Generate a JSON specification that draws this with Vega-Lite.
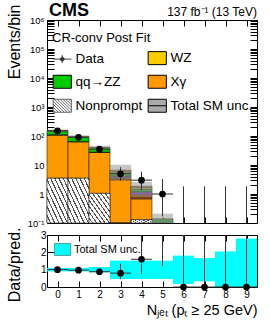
{
  "$schema": "https://vega.github.io/schema/vega-lite/v6.json",
  "padding": {"left": 5, "top": 1, "right": 5, "bottom": 2},
  "config": {
    "font": "Liberation Sans",
    "view": {"stroke": "black", "strokeWidth": 1},
    "axis": {"labelFont": "Liberation Sans", "titleFont": "Liberation Sans", "labelColor": "black", "titleColor": "black", "domainColor": "black", "tickColor": "black", "grid": false, "titleFontWeight": "normal", "labelOverlap": false, "labelSeparation": 0, "labelBound": false},
    "legend": {"labelFont": "Liberation Sans", "labelColor": "black"}
  },
  "datasets": {
    "stack": [
      {"bin": 0, "lo": -0.5, "hi": 0.5, "proc": "Nonprompt", "n": 3.5},
      {"bin": 0, "lo": -0.5, "hi": 0.5, "proc": "Xγ", "n": 106},
      {"bin": 0, "lo": -0.5, "hi": 0.5, "proc": "ttV", "n": 0.6},
      {"bin": 0, "lo": -0.5, "hi": 0.5, "proc": "VVV", "n": 0.5},
      {"bin": 0, "lo": -0.5, "hi": 0.5, "proc": "ggZZ", "n": 0.5},
      {"bin": 0, "lo": -0.5, "hi": 0.5, "proc": "qq→ZZ", "n": 38},
      {"bin": 0, "lo": -0.5, "hi": 0.5, "proc": "tZq", "n": 1.5},
      {"bin": 0, "lo": -0.5, "hi": 0.5, "proc": "WZ", "n": 3},
      {"bin": 1, "lo": 0.5, "hi": 1.5, "proc": "Nonprompt", "n": 3.5},
      {"bin": 1, "lo": 0.5, "hi": 1.5, "proc": "Xγ", "n": 60},
      {"bin": 1, "lo": 0.5, "hi": 1.5, "proc": "ttV", "n": 0.4},
      {"bin": 1, "lo": 0.5, "hi": 1.5, "proc": "VVV", "n": 0.4},
      {"bin": 1, "lo": 0.5, "hi": 1.5, "proc": "ggZZ", "n": 0.4},
      {"bin": 1, "lo": 0.5, "hi": 1.5, "proc": "qq→ZZ", "n": 28},
      {"bin": 1, "lo": 0.5, "hi": 1.5, "proc": "tZq", "n": 1},
      {"bin": 1, "lo": 0.5, "hi": 1.5, "proc": "WZ", "n": 2},
      {"bin": 2, "lo": 1.5, "hi": 2.5, "proc": "Nonprompt", "n": 1.05},
      {"bin": 2, "lo": 1.5, "hi": 2.5, "proc": "Xγ", "n": 26},
      {"bin": 2, "lo": 1.5, "hi": 2.5, "proc": "ttV", "n": 0.3},
      {"bin": 2, "lo": 1.5, "hi": 2.5, "proc": "VVV", "n": 0.3},
      {"bin": 2, "lo": 1.5, "hi": 2.5, "proc": "ggZZ", "n": 0.3},
      {"bin": 2, "lo": 1.5, "hi": 2.5, "proc": "qq→ZZ", "n": 10.5},
      {"bin": 2, "lo": 1.5, "hi": 2.5, "proc": "tZq", "n": 0.8},
      {"bin": 2, "lo": 1.5, "hi": 2.5, "proc": "WZ", "n": 1.2},
      {"bin": 3, "lo": 2.5, "hi": 3.5, "proc": "Nonprompt", "n": 0.05},
      {"bin": 3, "lo": 2.5, "hi": 3.5, "proc": "Xγ", "n": 3.05},
      {"bin": 3, "lo": 2.5, "hi": 3.5, "proc": "ttV", "n": 0.55},
      {"bin": 3, "lo": 2.5, "hi": 3.5, "proc": "VVV", "n": 0.42},
      {"bin": 3, "lo": 2.5, "hi": 3.5, "proc": "ggZZ", "n": 0.2},
      {"bin": 3, "lo": 2.5, "hi": 3.5, "proc": "qq→ZZ", "n": 1.0},
      {"bin": 3, "lo": 2.5, "hi": 3.5, "proc": "tZq", "n": 0.9},
      {"bin": 3, "lo": 2.5, "hi": 3.5, "proc": "WZ", "n": 0.5},
      {"bin": 4, "lo": 3.5, "hi": 4.5, "proc": "Nonprompt", "n": 0.13},
      {"bin": 4, "lo": 3.5, "hi": 4.5, "proc": "Xγ", "n": 0.55},
      {"bin": 4, "lo": 3.5, "hi": 4.5, "proc": "ttV", "n": 0.3},
      {"bin": 4, "lo": 3.5, "hi": 4.5, "proc": "VVV", "n": 0.2},
      {"bin": 4, "lo": 3.5, "hi": 4.5, "proc": "ggZZ", "n": 0.05},
      {"bin": 4, "lo": 3.5, "hi": 4.5, "proc": "qq→ZZ", "n": 0.2},
      {"bin": 4, "lo": 3.5, "hi": 4.5, "proc": "tZq", "n": 0.3},
      {"bin": 4, "lo": 3.5, "hi": 4.5, "proc": "WZ", "n": 0.12},
      {"bin": 5, "lo": 4.5, "hi": 5.5, "proc": "Xγ", "n": 0.02},
      {"bin": 5, "lo": 4.5, "hi": 5.5, "proc": "ggZZ", "n": 0.12}
    ],
    "unc": [
      {"lo": -0.5, "hi": 0.5, "ulo": 140, "uhi": 168},
      {"lo": 0.5, "hi": 1.5, "ulo": 87, "uhi": 106},
      {"lo": 1.5, "hi": 2.5, "ulo": 35, "uhi": 46},
      {"lo": 2.5, "hi": 3.5, "ulo": 3.1, "uhi": 10.2},
      {"lo": 3.5, "hi": 4.5, "ulo": 0.8, "uhi": 2.6},
      {"lo": 4.5, "hi": 5.5, "ulo": 0.065, "uhi": 0.21}
    ],
    "obs": [
      {"bin": 0, "lo": -0.5, "hi": 0.5, "n": 150, "elo": 138, "ehi": 162},
      {"bin": 1, "lo": 0.5, "hi": 1.5, "n": 90, "elo": 80.5, "ehi": 99.5},
      {"bin": 2, "lo": 1.5, "hi": 2.5, "n": 35, "elo": 29.1, "ehi": 40.9},
      {"bin": 3, "lo": 2.5, "hi": 3.5, "n": 5, "elo": 2.84, "ehi": 8.38},
      {"bin": 4, "lo": 3.5, "hi": 4.5, "n": 3, "elo": 1.37, "ehi": 5.92},
      {"bin": 5, "lo": 4.5, "hi": 5.5, "n": 1, "elo": 0.17, "ehi": 3.3},
      {"bin": 6, "lo": 5.5, "hi": 6.5, "n": 0, "elo": 0, "ehi": 1.84},
      {"bin": 7, "lo": 6.5, "hi": 7.5, "n": 0, "elo": 0, "ehi": 1.84},
      {"bin": 8, "lo": 7.5, "hi": 8.5, "n": 0, "elo": 0, "ehi": 1.84},
      {"bin": 9, "lo": 8.5, "hi": 9.5, "n": 0, "elo": 0, "ehi": 1.84}
    ],
    "ratio": [
      {"bin": 0, "lo": -0.5, "hi": 0.5, "r": 1.0, "rlo": 0.92, "rhi": 1.08, "blo": 0.9, "bhi": 1.1},
      {"bin": 1, "lo": 0.5, "hi": 1.5, "r": 0.97, "rlo": 0.87, "rhi": 1.07, "blo": 0.9, "bhi": 1.1},
      {"bin": 2, "lo": 1.5, "hi": 2.5, "r": 0.88, "rlo": 0.74, "rhi": 1.03, "blo": 0.85, "bhi": 1.15},
      {"bin": 3, "lo": 2.5, "hi": 3.5, "r": 0.8, "rlo": 0.45, "rhi": 1.35, "blo": 0.46, "bhi": 1.52},
      {"bin": 4, "lo": 3.5, "hi": 4.5, "r": 1.6, "rlo": 0.75, "rhi": 3.0, "blo": 0.46, "bhi": 1.52},
      {"bin": 5, "lo": 4.5, "hi": 5.5, "r": null, "rlo": 1.2, "rhi": 3.0, "blo": 0.46, "bhi": 1.52},
      {"bin": 6, "lo": 5.5, "hi": 6.5, "r": 0, "rlo": 0, "rhi": 3.0, "blo": 0.18, "bhi": 1.81},
      {"bin": 7, "lo": 6.5, "hi": 7.5, "r": 0, "rlo": 0, "rhi": 3.0, "blo": 0.33, "bhi": 1.67},
      {"bin": 8, "lo": 7.5, "hi": 8.5, "r": 0, "rlo": 0, "rhi": 3.0, "blo": 0.0, "bhi": 2.05},
      {"bin": 9, "lo": 8.5, "hi": 9.5, "r": 0, "rlo": 0, "rhi": 3.0, "blo": 0.0, "bhi": 2.8}
    ]
  },
  "bounds": "flush",
  "spacing": 12,
  "resolve": {"legend": {"color": "independent", "fill": "independent"}},
  "vconcat": [
    {
      "width": 210,
      "height": 203,
      "resolve": {"axis": {"x": "independent", "y": "independent"}},
      "layer": [
        {
          "data": {"name": "stack"},
          "transform": [{"stack": "n", "groupby": ["bin"], "as": ["y0", "y1"]}],
          "mark": {"type": "rect", "stroke": "#222222", "strokeWidth": 0.6},
          "encoding": {
            "x": {"field": "lo", "type": "quantitative", "scale": {"domain": [-0.5, 9.5], "nice": false, "zero": false},
                  "axis": {"values": [0,1,2,3,4,5,6,7,8,9], "labels": false, "title": null, "tickSize": -6, "domain": false, "minExtent": 0, "maxExtent": 0}},
            "x2": {"field": "hi"},
            "y": {"field": "y1", "type": "quantitative",
                  "scale": {"type": "log", "domain": [0.1, 1000000], "nice": false, "clamp": true},
                  "axis": {"values": [0.1, 0.2, 0.3, 0.4, 0.5, 0.6, 0.7, 0.8, 0.9, 1, 2, 3, 4, 5, 6, 7, 8, 9, 10, 20, 30, 40, 50, 60, 70, 80, 90, 100, 200, 300, 400, 500, 600, 700, 800, 900, 1000, 2000, 3000, 4000, 5000, 6000, 7000, 8000, 9000, 10000, 20000, 30000, 40000, 50000, 60000, 70000, 80000, 90000, 100000, 200000, 300000, 400000, 500000, 600000, 700000, 800000, 900000, 1000000],
                           "tickSize": -7, "domain": false,
                           "labelFontSize": 9.5, "labelPadding": 10,
                           "labelExpr": "abs(log(datum.value)/LN10 - round(log(datum.value)/LN10)) > 0.001 ? '' : datum.value < 0.5 ? '10⁻¹' : datum.value < 5 ? '1' : datum.value < 50 ? '10' : '10' + ['²','³','⁴','⁵','⁶'][round(log(datum.value)/LN10) - 2]",
                           "encode": {"ticks": {"update": {"x2": {"signal": "abs(log(datum.value)/LN10 - round(log(datum.value)/LN10)) > 0.001 ? 4 : 7"}}}},
                           "title": "Events/bin", "titleFontSize": 16, "titleAnchor": "end", "titleX": -28, "titleY": -16, "titleAlign": "right", "titleAngle": -90, "titleBaseline": "alphabetic"}},
            "y2": {"field": "y0"},
            "color": {"field": "proc", "type": "nominal",
                      "scale": {"domain": ["Data", "WZ", "qq→ZZ", "Xγ", "Nonprompt", "Total SM unc.", "ttV", "VVV", "ggZZ", "tZq"],
                                "range": ["#000000", "#ffcc00", "#00cc00",  "#ff9900", "#ffffff", "#aaaaaa", "#8b4513", "#9933cc", "#338833", "#a0a040"]},
                      "legend": {"values": ["Data", "WZ", "qq→ZZ", "Xγ", "Nonprompt", "Total SM unc."],
                                 "columns": 2, "direction": "horizontal", "orient": "none", "legendX": 8.5, "legendY": 31, "title": null, "padding": 0,
                                 "symbolSize": 169, "symbolStrokeColor": "black", "symbolStrokeWidth": 1,
                                 "labelFontSize": 13.5, "labelOffset": 6.5, "rowPadding": 6, "columnPadding": 3,
                                 "encode": {"symbols": {"update": {
                                   "shape": {"signal": "datum.value === 'Data' ? 'M-1.4,0H1.4M0,-0.6V0.6M0.3,0A0.3,0.3 0 1 1 -0.3,0A0.3,0.3 0 1 1 0.3,0Z' : datum.value === 'Total SM unc.' ? 'M-1.4,-1H1.4V1H-1.4ZM-1.4,0H1.4' : datum.value === 'Nonprompt' ? 'M-1.4,-1H1.4V1H-1.4ZM1,-1L1.4,-0.6M0.55,-1L1.4,-0.15M0.1,-1L1.4,0.3M-0.35,-1L1.4,0.75M-0.8,-1L1.2,1M-1.25,-1L0.75,1M-1.4,-0.7L0.3,1M-1.4,-0.25L-0.15,1M-1.4,0.2L-0.6,1M-1.4,0.65L-1.05,1' : 'M-1.4,-1H1.4V1H-1.4Z'"},
                                   "stroke": {"signal": "datum.value === 'Data' ? '#444444' : datum.value === 'Nonprompt' ? '#444444' : 'black'"},
                                   "strokeWidth": {"signal": "datum.value === 'Nonprompt' ? 0.8 : 1"},
                                   "opacity": {"value": 1}
                                 }}}}}
          }
        },
        {
          "data": {"name": "stack"},
          "transform": [{"stack": "n", "groupby": ["bin"], "as": ["y0", "y1"]}, {"filter": "datum.proc === 'Nonprompt'"}],
          "mark": {"type": "rect", "stroke": "#222222", "strokeWidth": 0.6,
                   "color": {"gradient": "linear", "x1": 0, "y1": 1, "x2": 1, "y2": 0, "stops": [
                     {"offset": 0, "color": "#ffffff"}, {"offset": 0.07, "color": "#ffffff"}, {"offset": 0.07, "color": "#555555"}, {"offset": 0.1, "color": "#555555"},
                     {"offset": 0.1, "color": "#ffffff"}, {"offset": 0.17, "color": "#ffffff"}, {"offset": 0.17, "color": "#555555"}, {"offset": 0.2, "color": "#555555"},
                     {"offset": 0.2, "color": "#ffffff"}, {"offset": 0.27, "color": "#ffffff"}, {"offset": 0.27, "color": "#555555"}, {"offset": 0.3, "color": "#555555"},
                     {"offset": 0.3, "color": "#ffffff"}, {"offset": 0.37, "color": "#ffffff"}, {"offset": 0.37, "color": "#555555"}, {"offset": 0.4, "color": "#555555"},
                     {"offset": 0.4, "color": "#ffffff"}, {"offset": 0.47, "color": "#ffffff"}, {"offset": 0.47, "color": "#555555"}, {"offset": 0.5, "color": "#555555"},
                     {"offset": 0.5, "color": "#ffffff"}, {"offset": 0.57, "color": "#ffffff"}, {"offset": 0.57, "color": "#555555"}, {"offset": 0.6, "color": "#555555"},
                     {"offset": 0.6, "color": "#ffffff"}, {"offset": 0.67, "color": "#ffffff"}, {"offset": 0.67, "color": "#555555"}, {"offset": 0.7, "color": "#555555"},
                     {"offset": 0.7, "color": "#ffffff"}, {"offset": 0.77, "color": "#ffffff"}, {"offset": 0.77, "color": "#555555"}, {"offset": 0.8, "color": "#555555"},
                     {"offset": 0.8, "color": "#ffffff"}, {"offset": 0.87, "color": "#ffffff"}, {"offset": 0.87, "color": "#555555"}, {"offset": 0.9, "color": "#555555"},
                     {"offset": 0.9, "color": "#ffffff"}, {"offset": 0.97, "color": "#ffffff"}, {"offset": 0.97, "color": "#555555"}, {"offset": 1, "color": "#555555"}
                   ]}},
          "encoding": {
            "x": {"field": "lo", "type": "quantitative", "axis": null},
            "x2": {"field": "hi"},
            "y": {"field": "y1", "type": "quantitative", "axis": null},
            "y2": {"field": "y0"}
          }
        },
        {
          "data": {"name": "unc"},
          "mark": {"type": "rect", "color": "#999999", "opacity": 0.55},
          "encoding": {
            "x": {"field": "lo", "type": "quantitative", "axis": null},
            "x2": {"field": "hi"},
            "y": {"field": "uhi", "type": "quantitative", "axis": null},
            "y2": {"field": "ulo"}
          }
        },
        {
          "data": {"name": "obs"},
          "mark": {"type": "rule", "color": "#333333", "strokeWidth": 1},
          "encoding": {
            "x": {"field": "bin", "type": "quantitative", "axis": null},
            "y": {"field": "ehi", "type": "quantitative", "axis": null},
            "y2": {"field": "elo"}
          }
        },
        {
          "data": {"name": "obs"},
          "transform": [{"filter": "datum.n > 0"}],
          "mark": {"type": "rule", "color": "#333333", "strokeWidth": 1},
          "encoding": {
            "x": {"field": "lo", "type": "quantitative", "axis": null},
            "x2": {"field": "hi"},
            "y": {"field": "n", "type": "quantitative", "axis": null}
          }
        },
        {
          "data": {"name": "obs"},
          "transform": [{"filter": "datum.n > 0"}],
          "mark": {"type": "point", "filled": true, "color": "black", "size": 45, "opacity": 1},
          "encoding": {
            "x": {"field": "bin", "type": "quantitative",
                  "axis": {"orient": "top", "values": [0,1,2,3,4,5,6,7,8,9], "labels": false, "title": null, "tickSize": -6, "domain": false, "minExtent": 0, "maxExtent": 0}},
            "y": {"field": "n", "type": "quantitative",
                  "axis": {"orient": "right", "values": [0.1, 0.2, 0.3, 0.4, 0.5, 0.6, 0.7, 0.8, 0.9, 1, 2, 3, 4, 5, 6, 7, 8, 9, 10, 20, 30, 40, 50, 60, 70, 80, 90, 100, 200, 300, 400, 500, 600, 700, 800, 900, 1000, 2000, 3000, 4000, 5000, 6000, 7000, 8000, 9000, 10000, 20000, 30000, 40000, 50000, 60000, 70000, 80000, 90000, 100000, 200000, 300000, 400000, 500000, 600000, 700000, 800000, 900000, 1000000],
                           "labels": false, "title": null, "domain": false, "tickSize": -7, "minExtent": 0, "maxExtent": 0,
                           "encode": {"ticks": {"update": {"x2": {"signal": "abs(log(datum.value)/LN10 - round(log(datum.value)/LN10)) > 0.001 ? -4 : -7"}}}}}}
          }
        },
        {
          "data": {"values": [{}]},
          "mark": {"type": "text", "text": "CMS", "fontSize": 18, "fontWeight": "bold", "align": "left", "baseline": "alphabetic", "dx": 2, "dy": -4, "color": "black"},
          "encoding": {"x": {"datum": -0.5, "axis": null}, "y": {"datum": 1000000, "axis": null}}
        },
        {
          "data": {"values": [{}]},
          "mark": {"type": "text", "text": "137 fb⁻¹ (13 TeV)", "fontSize": 12, "align": "right", "baseline": "alphabetic", "dx": 0, "dy": -4, "color": "black"},
          "encoding": {"x": {"datum": 9.5, "axis": null}, "y": {"datum": 1000000, "axis": null}}
        },
        {
          "data": {"values": [{}]},
          "mark": {"type": "text", "text": "CR-conv Post Fit", "fontSize": 13, "align": "left", "baseline": "alphabetic", "dx": 5, "dy": 22, "color": "black"},
          "encoding": {"x": {"datum": -0.5, "axis": null}, "y": {"datum": 1000000, "axis": null}}
        }
      ]
    },
    {
      "width": 210,
      "height": 52,
      "resolve": {"axis": {"x": "independent", "y": "independent"}},
      "layer": [
        {
          "data": {"name": "ratio"},
          "mark": {"type": "rect"},
          "encoding": {
            "x": {"field": "lo", "type": "quantitative", "scale": {"domain": [-0.5, 9.5], "nice": false, "zero": false},
                  "axis": {"values": [0,1,2,3,4,5,6,7,8,9], "tickSize": -6, "domain": false, "labelFontSize": 10, "labelPadding": 8, "labelOverlap": false, "labelFlush": false,
                           "title": "Nⱼₑₜ (pₜ ≥ 25 GeV)", "titleFontSize": 14.5, "titleAnchor": "end", "titlePadding": 4}},
            "x2": {"field": "hi"},
            "y": {"field": "bhi", "type": "quantitative", "scale": {"domain": [0, 3], "nice": false},
                  "axis": {"values": [0, 1, 2, 3], "tickSize": -7, "domain": false, "labelFontSize": 10, "labelPadding": 8, "labelOverlap": false, "labelFlush": false,
                           "title": "Data/pred.", "titleFontSize": 16, "titleAnchor": "end", "titleX": -28, "titleY": -8, "titleAlign": "right", "titleAngle": -90, "titleBaseline": "alphabetic"}},
            "y2": {"field": "blo"},
            "fill": {"datum": "Total SM unc.", "type": "nominal", "scale": {"range": ["#00ffff"]},
                     "legend": {"orient": "none", "legendX": 9, "legendY": 8, "title": null, "padding": 0, "symbolSize": 144,
                                "labelFontSize": 11, "labelOffset": 5,
                                "encode": {"symbols": {"update": {"shape": {"value": "M-1.35,-1H1.35V1H-1.35Z"}, "stroke": {"value": "#336666"}, "strokeWidth": {"value": 0.6}, "opacity": {"value": 1}}}}}}
          }
        },
        {
          "mark": {"type": "rule", "color": "#2050ff", "strokeWidth": 2},
          "encoding": {"y": {"datum": 1, "axis": null}}
        },
        {
          "data": {"name": "ratio"},
          "mark": {"type": "rule", "color": "#333333", "strokeWidth": 1},
          "encoding": {
            "x": {"field": "bin", "type": "quantitative", "axis": null},
            "y": {"field": "rhi", "type": "quantitative", "axis": null},
            "y2": {"field": "rlo"}
          }
        },
        {
          "data": {"name": "ratio"},
          "transform": [{"filter": "datum.r != null"}],
          "mark": {"type": "rule", "color": "#333333", "strokeWidth": 1},
          "encoding": {
            "x": {"field": "lo", "type": "quantitative", "axis": null},
            "x2": {"field": "hi"},
            "y": {"field": "r", "type": "quantitative", "axis": null}
          }
        },
        {
          "data": {"name": "ratio"},
          "transform": [{"filter": "datum.r != null"}],
          "mark": {"type": "point", "filled": true, "color": "black", "size": 45, "opacity": 1, "clip": false},
          "encoding": {
            "x": {"field": "bin", "type": "quantitative",
                  "axis": {"orient": "top", "values": [0,1,2,3,4,5,6,7,8,9], "labels": false, "title": null, "tickSize": -6, "domain": false, "minExtent": 0, "maxExtent": 0}},
            "y": {"field": "r", "type": "quantitative",
                  "axis": {"orient": "right", "values": [0, 1, 2, 3], "labels": false, "title": null, "tickSize": -7, "domain": false, "minExtent": 0, "maxExtent": 0}}
          }
        }
      ]
    }
  ]
}
